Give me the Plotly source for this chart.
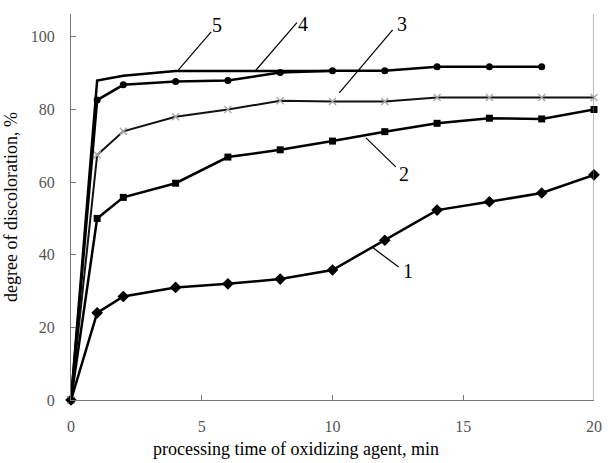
import plotly.graph_objects as go

x_full = [0, 1, 2, 4, 6, 8, 10, 12, 14, 16, 18, 20]
s1 = [0, 24, 28.5, 31, 32, 33.3, 35.8, 44, 52.3, 54.6, 57, 62]
s2 = [0, 50, 55.8, 59.7, 66.9, 68.9, 71.3, 73.9, 76.2, 77.6, 77.4, 80]
s3 = [0, 67.5, 74, 78, 80, 82.4, 82.2, 82.2, 83.3, 83.3, 83.3, 83.3]
x4 = [0, 1, 2, 4, 6, 8, 10, 12, 14, 16, 18]
s4 = [0, 82.6, 86.8, 87.7, 88, 90.2, 90.7, 90.7, 91.8, 91.8, 91.8]
x5 = [0, 1, 2, 4, 6, 8, 10]
s5 = [0, 88, 89.3, 90.6, 90.6, 90.6, 90.6]

x_ticks = [0, 5, 10, 15, 20]
y_ticks = [0, 20, 40, 60, 80, 100]

x_title = "processing time of oxidizing agent, min"
y_title = "degree of discoloration, %"

curve_labels = ["1", "2", "3", "4", "5"]
label_pos = [(12.87, 35.5), (12.75, 62.3), (12.64, 103.6), (8.87, 103.6), (5.58, 103.3)]
leader_from = [(12.53, 36.6), (12.42, 64.2), (12.3, 101.9), (8.64, 103.9), (5.36, 101.4)]
leader_to = [(11.55, 41.9), (11.28, 72.2), (10.26, 84.6), (7.02, 90.4), (4.11, 90.9)]

SERIF = "Liberation Serif"

fig = go.Figure()
fig.add_trace(go.Scatter(x=x_full, y=s1, mode="lines+markers",
                         line=dict(color="black", width=2.5),
                         marker=dict(symbol="diamond", size=9, color="black"),
                         cliponaxis=False))
fig.add_trace(go.Scatter(x=x_full, y=s2, mode="lines+markers",
                         line=dict(color="black", width=2.5),
                         marker=dict(symbol="square", size=7, color="black"),
                         cliponaxis=False))
fig.add_trace(go.Scatter(x=x_full, y=s3, mode="lines+markers",
                         line=dict(color="#111", width=2),
                         marker=dict(symbol="x-thin", size=7, color="#aaa",
                                     line=dict(color="#aaa", width=1.5)),
                         cliponaxis=False))
fig.add_trace(go.Scatter(x=x4, y=s4, mode="lines+markers",
                         line=dict(color="black", width=2.5),
                         marker=dict(symbol="circle", size=7, color="black"),
                         cliponaxis=False))
fig.add_trace(go.Scatter(x=x5, y=s5, mode="lines",
                         line=dict(color="black", width=2.5),
                         cliponaxis=False))

for lab, (tx, ty), (fx, fy), (ex, ey) in zip(curve_labels, label_pos, leader_from, leader_to):
    fig.add_shape(type="line", xref="x", yref="y", x0=fx, y0=fy, x1=ex, y1=ey,
                  line=dict(color="black", width=1.2))
    fig.add_annotation(x=tx, y=ty, text=lab, showarrow=False, xref="x", yref="y",
                       font=dict(family=SERIF, size=20, color="black"))

fig.add_shape(type="line", xref="x", yref="paper", x0=20, x1=20, y0=0, y1=1,
              line=dict(color="#777", width=1))

fig.add_annotation(x=0.431, y=-0.127, xref="paper", yref="paper", text=x_title,
                   showarrow=False, xanchor="center", yanchor="middle",
                   font=dict(family=SERIF, size=18, color="black"))

fig.update_layout(
    width=612, height=463,
    margin=dict(l=71, r=10, t=14, b=63),
    plot_bgcolor="white", paper_bgcolor="white",
    showlegend=False,
    font=dict(family=SERIF, color="black"),
)
fig.update_xaxes(range=[0, 20], tickvals=x_ticks, showgrid=False, zeroline=False,
                 showline=True, linecolor="#777", linewidth=1,
                 ticks="inside", ticklen=5, tickcolor="#777",
                 ticklabelstandoff=12,
                 tickfont=dict(family=SERIF, size=16, color="#555"))
fig.update_yaxes(range=[0, 106.3], tickvals=y_ticks, showgrid=False, zeroline=False,
                 showline=True, linecolor="#777", linewidth=1,
                 ticks="inside", ticklen=5, tickcolor="#777",
                 ticklabelstandoff=12,
                 tickfont=dict(family=SERIF, size=16, color="#555"),
                 title=dict(text=y_title, standoff=8,
                            font=dict(family=SERIF, size=18, color="black")))

fig.write_html("out.html")
